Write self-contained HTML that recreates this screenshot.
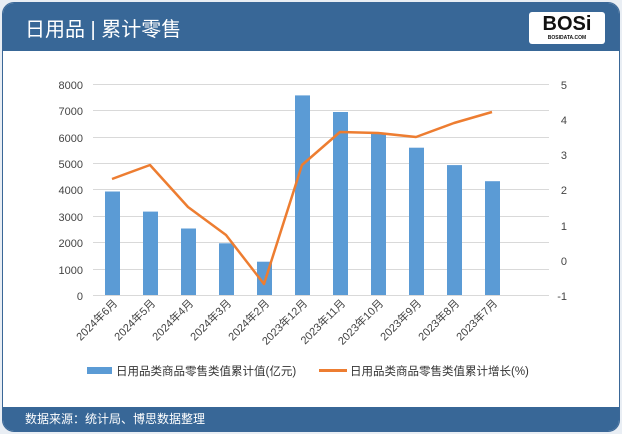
<!DOCTYPE html><html><head><meta charset="utf-8"><style>
body{margin:0;width:622px;height:434px;background:#e9eef4;font-family:"Liberation Sans","Noto Sans CJK SC",sans-serif;overflow:hidden}
.card{position:absolute;left:2px;top:2px;width:616px;height:428px;background:#fff;border:1px solid #3a6797;border-radius:12px;overflow:hidden}
.hd{position:absolute;left:0;top:0;width:616px;height:48px;background:#386797}
.hd .t{position:absolute;left:22px;top:10px;color:#fff;font-size:20px}
.logo{position:absolute;left:526px;top:9px;width:76px;height:32px;background:#fff;border-radius:3px;font:bold 20px "Liberation Sans",sans-serif;text-align:center;line-height:24px;color:#111}
.logo small{display:block;font-size:5px;line-height:5px}
.ft{position:absolute;left:0;top:404px;width:616px;height:24px;background:#386797;color:#fff;font-size:12px;line-height:24px;padding-left:22px;box-sizing:border-box}
</style></head><body><div class="card">
<div class="hd"><div class="t">日用品 | 累计零售</div><div class="logo">BOSi<small>BOSIDATA.COM</small></div></div>
<svg style="position:absolute;left:-2px;top:-2px" width="622" height="434" font-family="Liberation Sans, Noto Sans CJK SC, sans-serif">
<g stroke="#d9d9d9" stroke-width="1">
<line x1="92" x2="548" y1="83.5" y2="83.5"/><line x1="92" x2="548" y1="109.5" y2="109.5"/><line x1="92" x2="548" y1="136.5" y2="136.5"/><line x1="92" x2="548" y1="162.5" y2="162.5"/><line x1="92" x2="548" y1="188.5" y2="188.5"/><line x1="92" x2="548" y1="215.5" y2="215.5"/><line x1="92" x2="548" y1="241.5" y2="241.5"/><line x1="92" x2="548" y1="268.5" y2="268.5"/><line x1="92" x2="548" y1="294.5" y2="294.5"/>
</g>
<g font-size="11" fill="#444" text-anchor="end">
<text x="82" y="88">8000</text><text x="82" y="114">7000</text><text x="82" y="141">6000</text><text x="82" y="167">5000</text><text x="82" y="193">4000</text><text x="82" y="220">3000</text><text x="82" y="246">2000</text><text x="82" y="273">1000</text><text x="82" y="299">0</text>
</g>
<g font-size="11" fill="#444" text-anchor="end">
<text x="566" y="88">5</text><text x="566" y="123">4</text><text x="566" y="158">3</text><text x="566" y="193">2</text><text x="566" y="229">1</text><text x="566" y="264">0</text><text x="566" y="299">-1</text>
</g>
<g fill="#5b9bd5">
<rect x="104" y="190.5" width="15" height="103.5"/><rect x="142" y="210.6" width="15" height="83.4"/><rect x="180" y="227.5" width="15" height="66.5"/><rect x="218" y="242.3" width="15" height="51.7"/><rect x="256" y="260.7" width="15" height="33.3"/><rect x="294" y="94.4" width="15" height="199.6"/><rect x="332" y="111" width="15" height="183"/><rect x="370" y="131.6" width="15" height="162.4"/><rect x="408" y="146.7" width="15" height="147.3"/><rect x="446" y="164.1" width="15" height="129.9"/><rect x="484" y="180.2" width="15" height="113.8"/>
</g>
<polyline fill="none" stroke="#ed7d31" stroke-width="2.5" stroke-linejoin="round" points="111,178 149,164 187,206 225,234 263,283 301,164 339,131 377,132 415,136 453,122 491,111"/>
<g font-size="11" fill="#444" text-anchor="end">
<text transform="translate(117,303) rotate(-45)">2024年6月</text><text transform="translate(155,303) rotate(-45)">2024年5月</text><text transform="translate(193,303) rotate(-45)">2024年4月</text><text transform="translate(231,303) rotate(-45)">2024年3月</text><text transform="translate(269,303) rotate(-45)">2024年2月</text><text transform="translate(307,303) rotate(-45)">2023年12月</text><text transform="translate(345,303) rotate(-45)">2023年11月</text><text transform="translate(383,303) rotate(-45)">2023年10月</text><text transform="translate(421,303) rotate(-45)">2023年9月</text><text transform="translate(459,303) rotate(-45)">2023年8月</text><text transform="translate(497,303) rotate(-45)">2023年7月</text>
</g>
<rect x="86" y="366" width="25" height="7" fill="#5b9bd5"/>
<text x="115" y="374" font-size="11.5" fill="#333">日用品类商品零售类值累计值(亿元)</text>
<line x1="318" x2="346" y1="369.5" y2="369.5" stroke="#ed7d31" stroke-width="3"/>
<text x="349" y="374" font-size="11.5" fill="#333">日用品类商品零售类值累计增长(%)</text>
</svg>
<div class="ft">数据来源：统计局、博思数据整理</div>
</div></body></html>
